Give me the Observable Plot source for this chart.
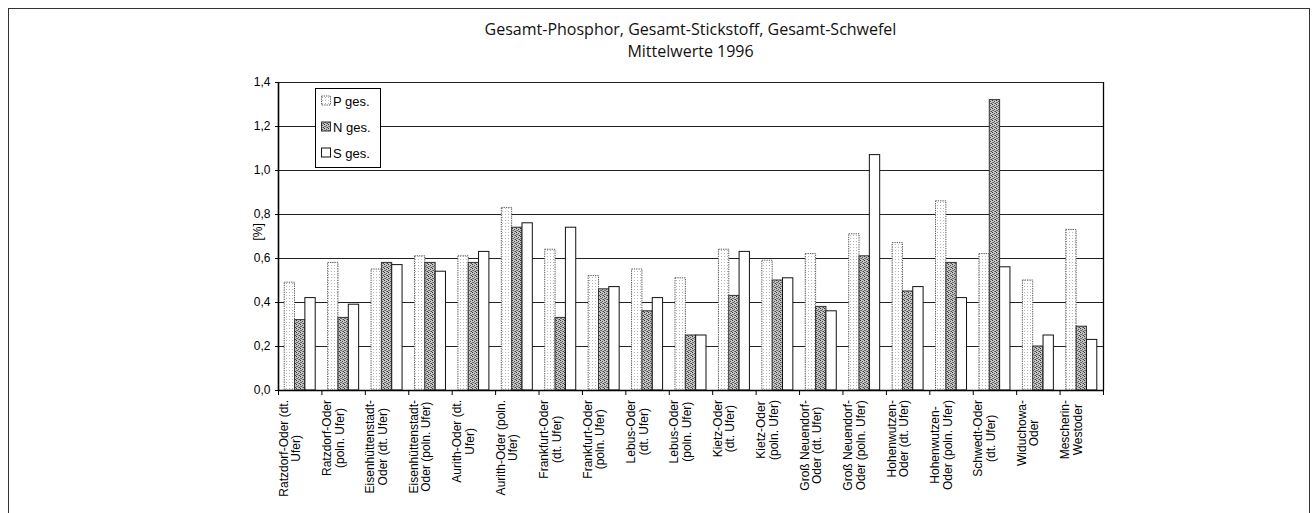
<!DOCTYPE html>
<html><head><meta charset="utf-8">
<script src="https://cdn.jsdelivr.net/npm/d3@7"></script>
<script src="https://cdn.jsdelivr.net/npm/@observablehq/plot@0.6"></script>
<style>
body{margin:0;background:#fff;overflow:hidden}
#wrap{position:relative;width:1316px;height:513px;overflow:hidden;background:#fff}
#frame{position:absolute;left:8px;top:8px;width:1302px;height:530px;border:1px solid #333;box-sizing:border-box}
#chart{position:absolute;left:0;top:0}
.title{position:absolute;left:278px;width:825px;text-align:center;font-family:"Open Sans",sans-serif;font-size:16px;line-height:normal;color:#111;white-space:nowrap}
</style></head><body>
<div id="wrap"><div id="frame"></div><div id="chart"></div>
<div class="title" style="top:18px">Gesamt-Phosphor, Gesamt-Stickstoff, Gesamt-Schwefel</div>
<div class="title" style="top:40px">Mittelwerte 1996</div></div>
<script>
const categories = [
  "Ratzdorf-Oder (dt.\nUfer)",
  "Ratzdorf-Oder\n(poln. Ufer)",
  "Eisenhüttenstadt-\nOder (dt. Ufer)",
  "Eisenhüttenstadt-\nOder (poln. Ufer)",
  "Aurith-Oder (dt.\nUfer)",
  "Aurith-Oder (poln.\nUfer)",
  "Frankfurt-Oder\n(dt. Ufer)",
  "Frankfurt-Oder\n(poln. Ufer)",
  "Lebus-Oder\n(dt. Ufer)",
  "Lebus-Oder\n(poln. Ufer)",
  "Kietz-Oder\n(dt. Ufer)",
  "Kietz-Oder\n(poln. Ufer)",
  "Groß Neuendorf-\nOder (dt. Ufer)",
  "Groß Neuendorf-\nOder (poln. Ufer)",
  "Hohenwutzen-\nOder (dt. Ufer)",
  "Hohenwutzen-\nOder (poln. Ufer)",
  "Schwedt-Oder\n(dt. Ufer)",
  "Widuchowa-\nOder",
  "Mescherin-\nWestoder"
];
const series = ["P ges.", "N ges.", "S ges."];
const pGes = [0.49,0.58,0.55,0.61,0.61,0.83,0.64,0.52,0.55,0.51,0.64,0.59,0.62,0.71,0.67,0.86,0.62,0.50,0.73];
const nGes = [0.32,0.33,0.58,0.58,0.58,0.74,0.33,0.46,0.36,0.25,0.43,0.50,0.38,0.61,0.45,0.58,1.32,0.20,0.29];
const sGes = [0.42,0.39,0.57,0.54,0.63,0.76,0.74,0.47,0.42,0.25,0.63,0.51,0.36,1.07,0.47,0.42,0.56,0.25,0.23];
const yTicks = [0, 0.2, 0.4, 0.6, 0.8, 1.0, 1.2, 1.4];

const values = [pGes, nGes, sGes];
const rows = categories.flatMap((c, i) => series.map((s, k) => ({i, k, s, v: values[k][i]})));
const groupPad = 0.143;
const barW = (1 - 2 * groupPad) / 3;
const x1 = d => d.i + groupPad + d.k * barW;
const x2 = d => d.i + groupPad + (d.k + 1) * barW;

const styles = [
  {fill: "url(#patP)", stroke: "#555", strokeDasharray: "1.3,1", strokeWidth: 1},
  {fill: "url(#patN)", stroke: "#333", strokeWidth: 1},
  {fill: "#fff", stroke: "#111", strokeWidth: 1}
];

const svg = Plot.plot({
  width: 1316, height: 513,
  marginLeft: 278, marginRight: 213, marginTop: 82, marginBottom: 123,
  x: {domain: [0, categories.length]},
  y: {domain: [0, 1.4]},
  style: {fontFamily: '"Liberation Sans", Arial, sans-serif', fontSize: "12px", color: "#000", background: "transparent", overflow: "visible"},
  marks: [
    Plot.ruleY(yTicks.filter(v => v > 0), {stroke: "#222", strokeWidth: 1}),
    ...series.map((s, k) => Plot.rectY(rows.filter(d => d.k === k), {x1, x2, y: "v", ...styles[k]})),
    Plot.ruleY([0], {stroke: "#000", strokeWidth: 1.3}),
    Plot.ruleX([0], {stroke: "#000", strokeWidth: 1.6}),
    Plot.ruleX([categories.length], {stroke: "#000", strokeWidth: 1.3}),
    Plot.axisY({ticks: yTicks, tickFormat: d => d.toFixed(1).replace(".", ","), tickSize: 3, tickPadding: 5, label: null, fontSize: 12}),
    Plot.axisX({ticks: d3.range(categories.length + 1), tickFormat: () => "", tickSize: 5, label: null}),
    Plot.text(["[%]"], {frameAnchor: "left", dx: -20, dy: 4, rotate: -90, fontSize: 12}),
    Plot.text(categories, {x: (d, i) => i + 0.5, frameAnchor: "bottom", rotate: -90, textAnchor: "middle", lineHeight: 1.05, fontSize: 12})
  ]
});
document.getElementById("chart").append(svg);

// patterns
const defs = d3.select(svg).insert("defs", ":first-child");
const pP = defs.append("pattern").attr("id", "patP").attr("width", 3).attr("height", 3).attr("patternUnits", "userSpaceOnUse");
pP.append("rect").attr("width", 3).attr("height", 3).attr("fill", "#fff");
pP.append("rect").attr("x", 1).attr("y", 1).attr("width", 1).attr("height", 1).attr("fill", "#b8b8b8");
const pN = defs.append("pattern").attr("id", "patN").attr("width", 4).attr("height", 4).attr("patternUnits", "userSpaceOnUse");
pN.append("rect").attr("width", 4).attr("height", 4).attr("fill", "#c4c4c4");
[[0,0,"#333"],[2,1,"#555"],[1,2,"#666"],[3,3,"#444"],[2,3,"#888"],[0,2,"#777"]].forEach(([x,y,c]) => pN.append("rect").attr("x", x).attr("y", y).attr("width", 1).attr("height", 1).attr("fill", c));

// align label tops below axis
const top0 = svg.getBoundingClientRect().top;
svg.querySelectorAll('g[aria-label="text"]').forEach(g => {
  if (g.children.length !== categories.length) return;
  for (const t of g.children) {
    const r = t.getBoundingClientRect();
    const delta = 400 - (r.top - top0);
    t.setAttribute("transform", `translate(0,${delta}) ` + (t.getAttribute("transform") || ""));
  }
});

// legend
const lg = d3.select(svg).append("g").attr("font-family", '"Liberation Sans", Arial, sans-serif').attr("font-size", 13).attr("text-anchor", "start");
lg.append("rect").attr("x", 315.5).attr("y", 88.5).attr("width", 65).attr("height", 79).attr("fill", "#fff").attr("stroke", "#000");
series.forEach((s, k) => {
  const cy = 101 + k * 26;
  lg.append("rect").attr("x", 321.5).attr("y", cy - 5).attr("width", 9).attr("height", 9)
    .attr("fill", styles[k].fill).attr("stroke", styles[k].stroke).attr("stroke-dasharray", styles[k].strokeDasharray || null);
  lg.append("text").attr("x", 333).attr("y", cy).attr("dy", "0.35em").attr("text-anchor", "start").text(s);
});
</script></body></html>
